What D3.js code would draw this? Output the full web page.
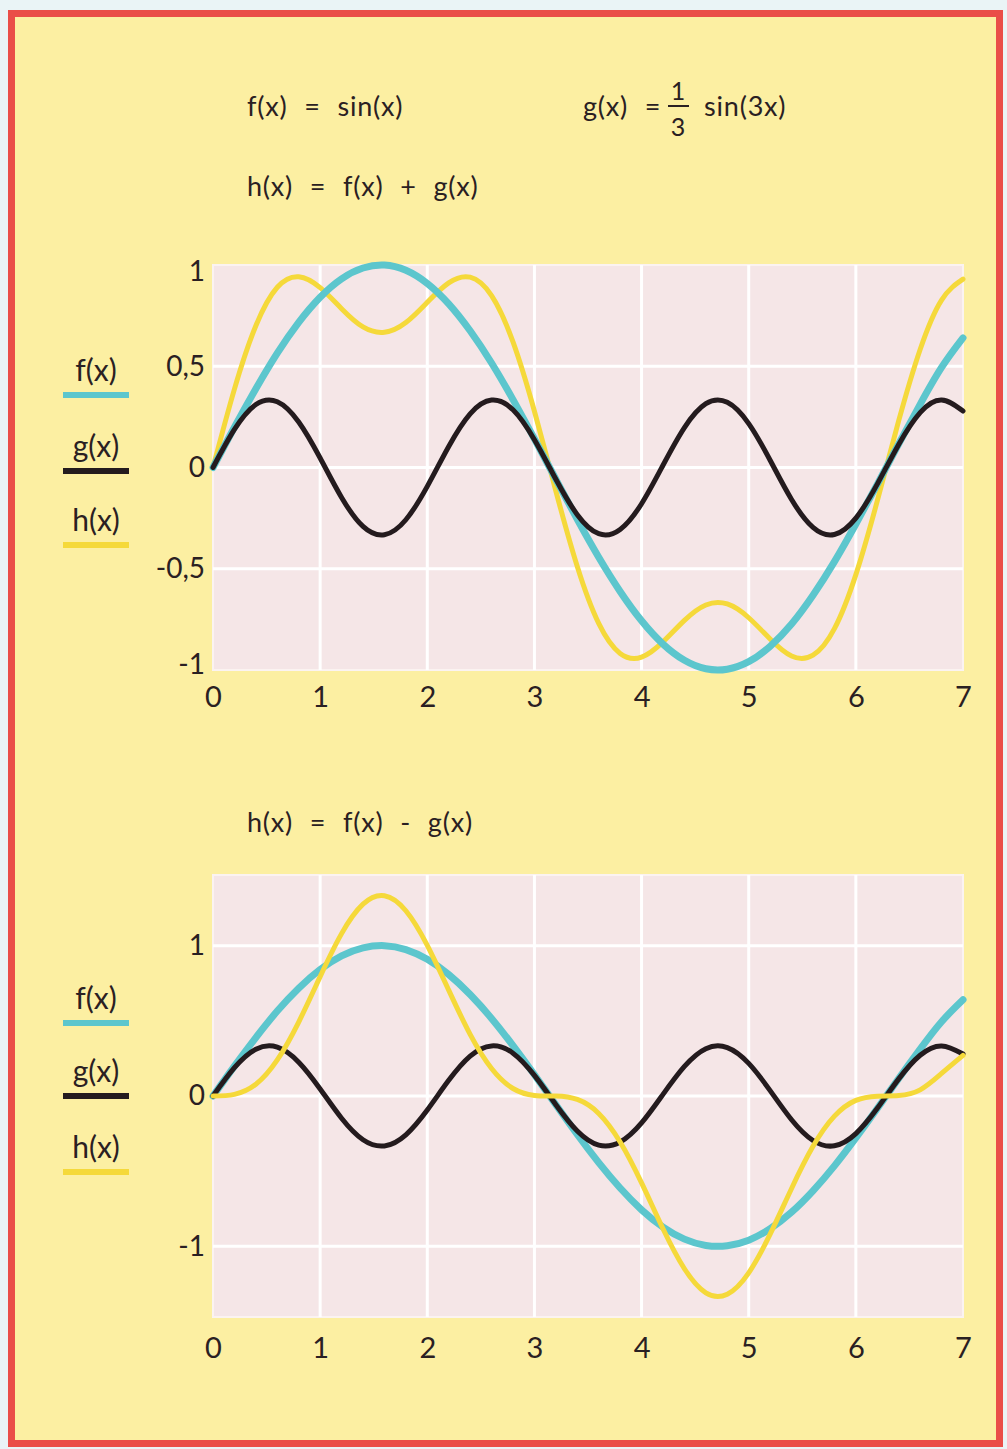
<!DOCTYPE html>
<html>
<head>
<meta charset="utf-8">
<script src="https://cdn.jsdelivr.net/npm/d3@7"></script>
<style>
  html, body { margin: 0; padding: 0; background: #eaf4f6; }
  text { font-family: Lato, "Noto Sans", sans-serif; fill: #2a2022; }
</style>
</head>
<body>
<div class="chart"></div>
<script>
// sample points
const xs = [0, 0.2, 0.4, 0.6, 0.8, 1.0, 1.2, 1.4, 1.6, 1.8, 2.0, 2.2, 2.4, 2.6, 2.8, 3.0, 3.2, 3.4,
  3.6, 3.8, 4.0, 4.2, 4.4, 4.6, 4.8, 5.0, 5.2, 5.4, 5.6, 5.8, 6.0, 6.2, 6.4, 6.6, 6.8, 7.0];
const fVals = [0, 0.199, 0.389, 0.565, 0.717, 0.841, 0.932, 0.985, 1.0, 0.974, 0.909, 0.808, 0.675,
  0.516, 0.335, 0.141, -0.058, -0.256, -0.443, -0.612, -0.757, -0.872, -0.952, -0.994, -0.996,
  -0.959, -0.883, -0.773, -0.631, -0.465, -0.279, -0.083, 0.117, 0.312, 0.494, 0.640];
const gVals = [0, 0.188, 0.311, 0.325, 0.225, 0.047, -0.148, -0.291, -0.332, -0.258, -0.093, 0.104,
  0.265, 0.333, 0.285, 0.137, -0.058, -0.233, -0.327, -0.306, -0.179, 0.011, 0.197, 0.315, 0.322,
  0.217, 0.036, -0.158, -0.296, -0.331, -0.250, -0.082, 0.114, 0.271, 0.333, 0.279];
const hPlusVals = [0, 0.387, 0.700, 0.890, 0.942, 0.888, 0.784, 0.694, 0.668, 0.716, 0.816, 0.912,
  0.940, 0.849, 0.620, 0.278, -0.116, -0.489, -0.770, -0.918, -0.936, -0.861, -0.755, -0.679,
  -0.674, -0.742, -0.847, -0.931, -0.927, -0.796, -0.529, -0.165, 0.231, 0.583, 0.827, 0.930];
const hMinusVals = [0, 0.011, 0.078, 0.240, 0.492, 0.794, 1.080, 1.276, 1.332, 1.232, 1.002, 0.704,
  0.410, 0.183, 0.050, 0.004, 0.000, -0.023, -0.116, -0.306, -0.578, -0.883, -1.149, -1.309,
  -1.318, -1.176, -0.919, -0.615, -0.335, -0.134, -0.029, -0.001, 0.003, 0.041, 0.150, 0.270];

const xTicks = [0, 1, 2, 3, 4, 5, 6, 7];
const yTicksTop = [-1, -0.5, 0, 0.5, 1];
const yTicksBottom = [-1, 0, 1];
const legendLabels = ["f(x)", "g(x)", "h(x)"];

const colors = { f: "#5cc6cd", g: "#241b1e", h: "#f5d93a" };
const FONT = "Lato, 'Noto Sans', sans-serif";

const W = 1007, H = 1449;
const svg = d3.select(".chart").append("svg")
  .attr("width", W).attr("height", H);

// frame
svg.append("rect").attr("x", 0).attr("y", 0).attr("width", W).attr("height", H).attr("fill", "#eaf4f6");
svg.append("rect")
  .attr("x", 11.5).attr("y", 13.5).attr("width", 988).attr("height", 1430)
  .attr("fill", "#fcefa2").attr("stroke", "#ea4e48").attr("stroke-width", 7);

// formulas
const t = svg.append("g").attr("font-size", 27)
  .attr("letter-spacing", 0.8).attr("word-spacing", 9);
t.append("text").attr("x", 247).attr("y", 116).text("f(x) = sin(x)");
t.append("text").attr("x", 583).attr("y", 116).text("g(x) =");
t.append("text").attr("x", 678).attr("y", 100).attr("text-anchor", "middle").attr("font-size", 25)
  .attr("letter-spacing", 0).text("1");
t.append("line").attr("x1", 668).attr("x2", 689).attr("y1", 106).attr("y2", 106)
  .attr("stroke", "#2a2022").attr("stroke-width", 2);
t.append("text").attr("x", 678).attr("y", 136).attr("text-anchor", "middle").attr("font-size", 25)
  .attr("letter-spacing", 0).text("3");
t.append("text").attr("x", 704).attr("y", 116).text("sin(3x)");
t.append("text").attr("x", 247).attr("y", 196).text("h(x) = f(x) + g(x)");
t.append("text").attr("x", 247).attr("y", 832).text("h(x) = f(x) - g(x)");

function drawPanel(opt) {
  const x = d3.scaleLinear().domain([0, 7]).range([213, 963]);
  const y = d3.scaleLinear().domain(opt.yDomain).range([opt.bottom, opt.top]);
  const g = svg.append("g");

  g.append("rect")
    .attr("x", 213).attr("y", opt.top)
    .attr("width", 750).attr("height", opt.bottom - opt.top)
    .attr("fill", "#f5e6e7").attr("stroke", "#fbf3f1").attr("stroke-width", 2);

  // grid
  g.selectAll(".vg").data(xTicks.slice(1, -1)).join("line")
    .attr("x1", d => x(d)).attr("x2", d => x(d))
    .attr("y1", opt.top).attr("y2", opt.bottom)
    .attr("stroke", "#ffffff").attr("stroke-width", 3);
  g.selectAll(".hg").data(opt.yTicks.filter(d => y(d) > opt.top + 2 && y(d) < opt.bottom - 2)).join("line")
    .attr("x1", 213).attr("x2", 963)
    .attr("y1", d => y(d)).attr("y2", d => y(d))
    .attr("stroke", "#ffffff").attr("stroke-width", 3);

  // axes
  const xAxis = d3.axisBottom(x).tickValues(xTicks).tickSize(0).tickPadding(opt.xPad)
    .tickFormat(d3.format("d"));
  g.append("g").attr("transform", `translate(0,${opt.bottom})`).call(xAxis)
    .call(s => s.select(".domain").remove())
    .selectAll("text").attr("font-size", 29).attr("fill", "#2a2022")
    .attr("font-family", FONT);

  const yAxis = d3.axisLeft(y).tickValues(opt.yTicks).tickSize(0).tickPadding(8)
    .tickFormat(d => String(d).replace(".", ","));
  g.append("g").attr("transform", "translate(213,0)").call(yAxis)
    .call(s => s.select(".domain").remove())
    .selectAll("text").attr("font-size", 28).attr("fill", "#2a2022")
    .attr("font-family", FONT)
    .attr("dy", d => d === opt.yDomain[1] ? "0.55em" : d === opt.yDomain[0] ? "0.12em" : "0.32em");

  // curves
  const line = vals => d3.line()
    .x((d, i) => x(xs[i]))
    .y(d => y(d))
    .curve(d3.curveNatural)(vals);

  opt.order.forEach(k => {
    const s = opt.series[k];
    g.append("path")
      .attr("d", line(s.vals))
      .attr("fill", "none")
      .attr("stroke", colors[k])
      .attr("stroke-width", s.w)
      .attr("stroke-linecap", "round")
      .attr("stroke-linejoin", "round");
  });

  // legend
  const lg = g.append("g");
  legendLabels.forEach((lab, i) => {
    const k = ["f", "g", "h"][i];
    lg.append("text").attr("x", 96).attr("y", opt.legendY[i] - 14)
      .attr("text-anchor", "middle").attr("font-size", 30).text(lab);
    lg.append("line").attr("x1", 63).attr("x2", 129)
      .attr("y1", opt.legendY[i]).attr("y2", opt.legendY[i])
      .attr("stroke", colors[k]).attr("stroke-width", 6);
  });
}

drawPanel({
  top: 265, bottom: 670, yDomain: [-1, 1], yTicks: yTicksTop, xPad: 16,
  legendY: [395, 471, 545],
  order: ["h", "f", "g"],
  series: { f: { vals: fVals, w: 7 }, g: { vals: gVals, w: 5 }, h: { vals: hPlusVals, w: 5 } }
});

drawPanel({
  top: 875, bottom: 1317, yDomain: [-1.47, 1.47], yTicks: yTicksBottom, xPad: 20,
  legendY: [1023, 1096, 1172],
  order: ["f", "g", "h"],
  series: { f: { vals: fVals, w: 7 }, g: { vals: gVals, w: 5 }, h: { vals: hMinusVals, w: 5 } }
});
</script>
</body>
</html>
